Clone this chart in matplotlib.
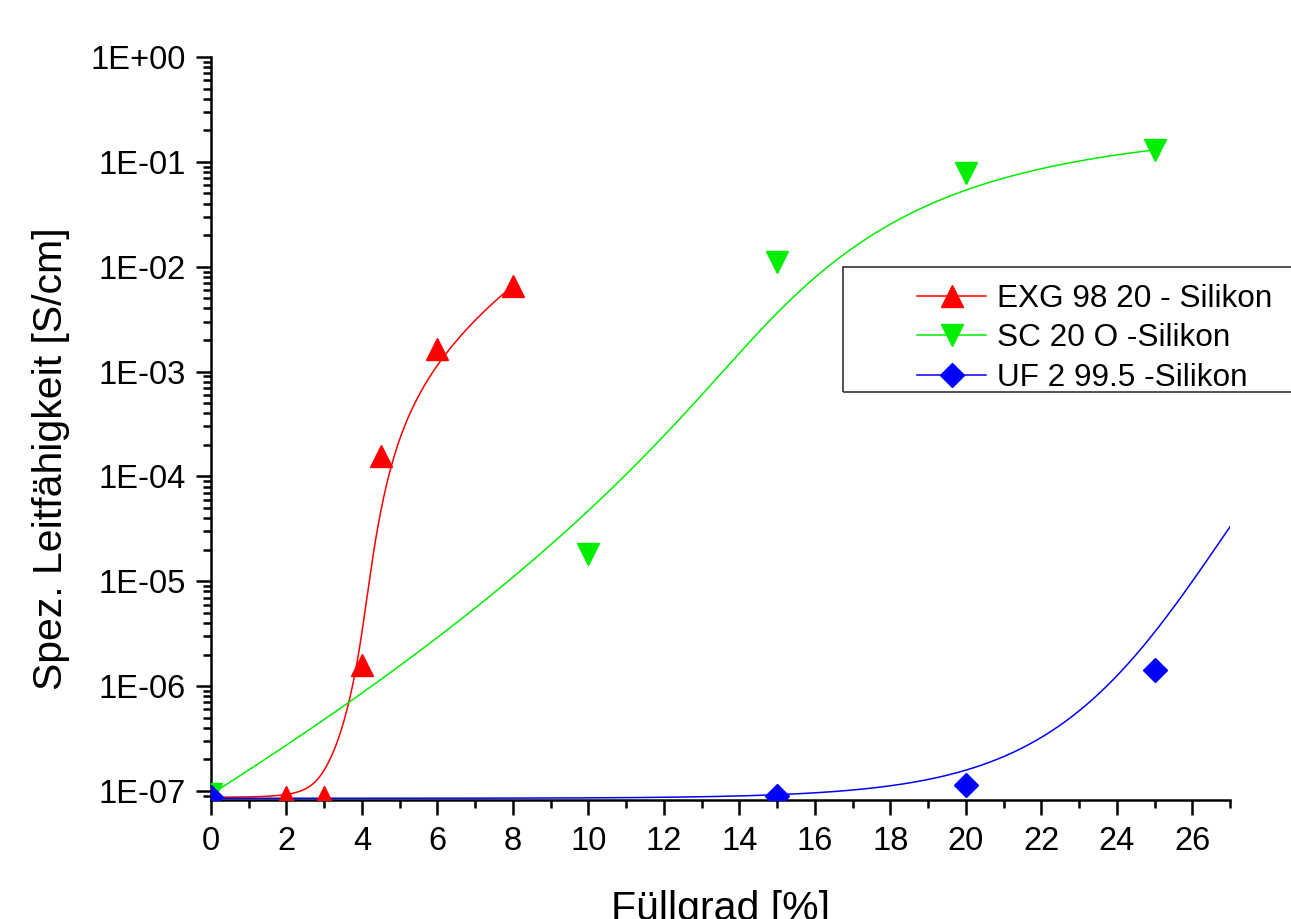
"""
Spezifische Leitfähigkeit von Silikon-Compounds über dem Füllgrad.
EXG und SC als B-Spline-Verbindung, UF mit Boltzmann-Fit (log10).
"""

import matplotlib
matplotlib.use('Agg')
import matplotlib.pyplot as plt
from matplotlib.lines import Line2D
from matplotlib.patches import Rectangle
from matplotlib.ticker import FixedLocator, MultipleLocator
import numpy as np

plt.rcParams['font.family'] = ['Liberation Sans', 'DejaVu Sans']

# *** Messwerte ***
EXG_X = [0, 2, 3, 4, 4.5, 6, 8]
EXG_Y = [8.7e-8, 8.8e-8, 8.8e-8, 1.6e-6, 1.55e-4, 1.65e-3, 6.6e-3]

SC_X = [0, 10, 15, 20, 25]
SC_Y = [9.3e-8, 1.8e-5, 1.1e-2, 7.9e-2, 1.3e-1]

UF_X = [0, 15, 20, 25]
UF_Y = [8.7e-8, 8.9e-8, 1.13e-7, 1.42e-6]

# Boltzmann-Fit UF (auf log10-Werten): A1, A2, x0, dx
UF_FIT = (-7.07, -2.07, 26.83, 2.38)

LABELS = ["EXG 98 20 - Silikon", "SC 20 O -Silikon", "UF 2 99.5 -Silikon"]
C_EXG = "#FF0000"
C_SC = "#00EE00"
C_UF = "#0000FF"

Y_EXP = list(range(-7, 1))


def bspline(px, py, n=500, k=3):
    """Geklemmter, uniformer B-Spline durch die Kontrollpunkte (px, py)."""
    P = np.column_stack([px, py])
    m = len(P)
    k = min(k, m - 1)
    t = np.concatenate([np.zeros(k), np.linspace(0, 1, m - k + 1), np.ones(k)])
    u = np.linspace(0, 1, n)
    N = np.zeros((n, len(t) - 1))
    for i in range(len(t) - 1):
        N[:, i] = (t[i] <= u) & (u < t[i + 1])
    N[u == 1, :] = 0
    N[u == 1, m - 1] = 1
    for d in range(1, k + 1):
        Nn = np.zeros((n, len(t) - 1 - d))
        for i in range(len(t) - 1 - d):
            a = t[i + d] - t[i]
            b = t[i + d + 1] - t[i + 1]
            col = np.zeros(n)
            if a > 0:
                col += (u - t[i]) / a * N[:, i]
            if b > 0:
                col += (t[i + d + 1] - u) / b * N[:, i + 1]
            Nn[:, i] = col
        N = Nn
    return N @ P


def boltzmann(x, a1, a2, x0, dx):
    return a2 + (a1 - a2) / (1 + np.exp((x - x0) / dx))


fig = plt.figure(figsize=(12.91, 9.19), dpi=100)
ax = fig.add_axes([211 / 1291, 1 - 800 / 919, (1230 - 211) / 1291, (800 - 57) / 919])

# Kurven
for xs, ys, c in [(EXG_X, EXG_Y, C_EXG), (SC_X, SC_Y, C_SC)]:
    curve = bspline(xs, np.log10(ys))
    ax.plot(curve[:, 0], 10 ** curve[:, 1], color=c, lw=1.1, zorder=2)

xf = np.linspace(0, 27, 400)
ax.plot(xf, 10 ** boltzmann(xf, *UF_FIT), color=C_UF, lw=1.1, zorder=2)

# Messpunkte
ax.plot(EXG_X, EXG_Y, ls="none", marker="^", ms=16, color=C_EXG, mec=C_EXG, zorder=3)
ax.plot(SC_X, SC_Y, ls="none", marker="v", ms=16, color=C_SC, mec=C_SC, zorder=3)
ax.plot(UF_X, UF_Y, ls="none", marker="D", ms=12, color=C_UF, mec=C_UF, zorder=4)

ax.set_yscale("log")
ax.set_xlim(0, 27)
ax.set_ylim(8.2e-8, 1)

ax.xaxis.set_major_locator(MultipleLocator(2))
ax.xaxis.set_minor_locator(MultipleLocator(1))
ax.yaxis.set_major_locator(FixedLocator([10.0 ** e for e in Y_EXP]))
ax.set_yticklabels([f"1E{e:+03d}" for e in Y_EXP])

for s in ("top", "right"):
    ax.spines[s].set_visible(False)
for s in ("left", "bottom"):
    ax.spines[s].set_linewidth(1.8)

ax.tick_params(which="major", direction="out", length=11, width=1.8, labelsize=23.5)
ax.tick_params(which="minor", direction="out", length=6, width=1.8)
ax.tick_params(axis="y", pad=7)
ax.tick_params(axis="x", pad=8)

ax.set_xlabel("Füllgrad [%]", fontsize=29.5)
ax.set_ylabel("Spez. Leitfähigkeit [S/cm]", fontsize=29.5)
ax.xaxis.set_label_coords(0.5, -0.121)
ax.yaxis.set_label_coords(-0.138, 0.459)

# Legende mit Rahmen, rechts angeschnitten
fig.patches.append(Rectangle((843 / 1291, 1 - 392 / 919), 0.5, (392 - 267) / 919,
                             transform=fig.transFigure, fill=False,
                             edgecolor="#333333", lw=1.2, zorder=5))
handles = [
    Line2D([], [], color=C_EXG, lw=1.1, marker="^", ms=16),
    Line2D([], [], color=C_SC, lw=1.1, marker="v", ms=16),
    Line2D([], [], color=C_UF, lw=1.1, marker="D", ms=12),
]
fig.legend(handles, LABELS, loc="upper left", bbox_to_anchor=(917 / 1291, 1 - 284 / 919),
           frameon=False, fontsize=22.7, borderpad=0, borderaxespad=0,
           handlelength=2.2, handletextpad=0.35, labelspacing=0.3)

fig.savefig("out.png", dpi=100)
